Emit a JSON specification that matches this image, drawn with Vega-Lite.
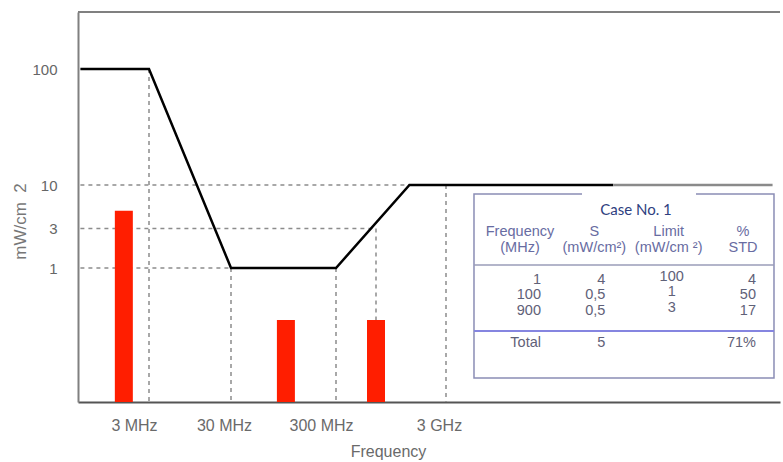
{
  "$schema": "https://vega.github.io/schema/vega-lite/v6.json",
  "width": 702,
  "height": 390,
  "autosize": {"type": "none"},
  "padding": {"left": 78, "top": 12, "right": 3, "bottom": 60},
  "background": "white",
  "config": {"view": {"stroke": null}, "font": "Liberation Sans"},
  "datasets": {
    "limit": [
      {"f": 0.15, "mw": 100, "seg": "a"}, {"f": 3, "mw": 100, "seg": "a"}, {"f": 30, "mw": 1, "seg": "a"},
      {"f": 300, "mw": 1, "seg": "a"}, {"f": 1600, "mw": 10, "seg": "a"}, {"f": 31700, "mw": 10, "seg": "a"},
      {"f": 31700, "mw": 10, "seg": "b"}, {"f": 300000, "mw": 10, "seg": "b"}
    ],
    "exposure": [{"f": 1, "s": 4.9, "base": 0.1}, {"f": 100, "s": 0.5, "base": 0.1}, {"f": 900, "s": 0.5, "base": 0.1}],
    "vguides": [
      {"f": 3, "top": 100, "bottom": 0.1}, {"f": 30, "top": 1, "bottom": 0.1}, {"f": 300, "top": 1, "bottom": 0.1},
      {"f": 900, "top": 3, "bottom": 0.1}, {"f": 3000, "top": 10, "bottom": 0.1}
    ],
    "hguides": [{"level": 10, "start": 0.15, "end": 1600}, {"level": 3, "start": 0.15, "end": 900}, {"level": 1, "start": 0.15, "end": 30}],
    "frame": [{"level": 1000}],
    "tableHead": [
      {"c": 1, "r": 1, "t": "Frequency"}, {"c": 1, "r": 2, "t": "(MHz)"},
      {"c": 2, "r": 1, "t": "S"}, {"c": 2, "r": 2, "t": "(mW/cm²)"},
      {"c": 3, "r": 1, "t": "Limit"}, {"c": 3, "r": 2, "t": "(mW/cm ²)"},
      {"c": 4, "r": 1, "t": "%"}, {"c": 4, "r": 2, "t": "STD"}
    ],
    "tableBody": [
      {"c": 1, "r": 4, "t": "1"}, {"c": 1, "r": 5, "t": "100"}, {"c": 1, "r": 6, "t": "900"}, {"c": 1, "r": 8, "t": "Total"},
      {"c": 2, "r": 4, "t": "4"}, {"c": 2, "r": 5, "t": "0,5"}, {"c": 2, "r": 6, "t": "0,5"}, {"c": 2, "r": 8, "t": "5"},
      {"c": 3, "r": 4, "t": "100"}, {"c": 3, "r": 5, "t": "1"}, {"c": 3, "r": 6, "t": "3"},
      {"c": 4, "r": 4, "t": "4"}, {"c": 4, "r": 5, "t": "50"}, {"c": 4, "r": 6, "t": "17"}, {"c": 4, "r": 8, "t": "71%"}
    ]
  },
  "layer": [
    {
      "layer": [
        {
          "data": {"name": "vguides"},
          "mark": {"type": "rule", "color": "#8c8c8c", "strokeWidth": 1.5, "strokeDash": [4, 4]},
          "encoding": {
            "x": {"field": "f", "type": "quantitative"},
            "y": {"field": "top", "type": "quantitative"},
            "y2": {"field": "bottom"}
          }
        },
        {
          "data": {"name": "hguides"},
          "mark": {"type": "rule", "color": "#8c8c8c", "strokeWidth": 1.5, "strokeDash": [4, 4]},
          "encoding": {
            "y": {"field": "level", "type": "quantitative"},
            "x": {"field": "start", "type": "quantitative"},
            "x2": {"field": "end"}
          }
        },
        {
          "data": {"name": "limit"},
          "mark": {"type": "line", "strokeWidth": 2.5},
          "encoding": {
            "color": {"field": "seg", "type": "nominal", "legend": null,
                      "scale": {"domain": ["a", "b"], "range": ["#000000", "#8a8a8a"]}},
            "x": {"field": "f", "type": "quantitative",
                  "scale": {"type": "log", "nice": false, "domain": [0.15, 3, 30, 300, 900, 3000, 300000], "range": [0, 71, 153, 258, 298, 368, 702]},
                  "axis": {
                    "values": [3, 30, 300, 3000],
                    "labelExpr": "datum.value == 3 ? '3 MHz' : datum.value == 30 ? '30 MHz' : datum.value == 300 ? '300 MHz' : '3 GHz'",
                    "labelOffset": {"condition": {"test": "datum.value == 30 || datum.value == 3000", "value": -7}, "value": -15},
                    "ticks": false, "tickSize": 0, "grid": false,
                    "domainColor": "#555555", "domainWidth": 2,
                    "labelPadding": 23, "labelBaseline": "middle", "labelFontSize": 16, "labelColor": "#6a6a6a",
                    "labelFont": "Liberation Sans", "labelFlush": false, "labelOverlap": false,
                    "title": "Frequency", "titleFont": "Liberation Sans", "titleFontSize": 16, "titleColor": "#6a6a6a",
                    "titleFontWeight": "normal", "titleX": 310, "titleY": 49, "titleBaseline": "middle", "titleAlign": "center"
                  }},
            "y": {"field": "mw", "type": "quantitative",
                  "scale": {"type": "log", "nice": false, "domain": [0.1, 0.5, 1, 10, 100, 1000], "range": [390, 308, 256, 173, 57, 0]},
                  "axis": {
                    "values": [1, 3, 10, 100], "format": "d",
                    "ticks": false, "tickSize": 0, "grid": false,
                    "domainColor": "#808080", "domainWidth": 2,
                    "labelPadding": 21, "labelBaseline": "middle", "labelFontSize": 15, "labelColor": "#666666",
                    "labelFont": "Liberation Sans", "labelFlush": false, "labelOverlap": false,
                    "title": "mW/cm\u00a0\u00a02", "titleFont": "Liberation Sans", "titleFontSize": 17, "titleColor": "#777777",
                    "titleFontWeight": "normal", "titleX": -58, "titleY": 209, "titleAngle": -90,
                    "titleAlign": "center", "titleBaseline": "middle"
                  }}
          }
        },
        {
          "data": {"name": "exposure"},
          "mark": {"type": "bar", "color": "#ff1e00", "size": 18},
          "encoding": {
            "x": {"field": "f", "type": "quantitative"},
            "y": {"field": "s", "type": "quantitative"},
            "y2": {"field": "base"}
          }
        },
        {
          "data": {"name": "frame"},
          "mark": {"type": "rule", "color": "#808080", "strokeWidth": 2},
          "encoding": {
            "y": {"field": "level", "type": "quantitative"}
          }
        }
      ]
    },
    {
      "layer": [
        {
          "data": {"values": [{}]},
          "mark": {"type": "point", "shape": "M-1,-0.6133H1V0.6133H-1Z", "size": 90000, "filled": true, "fill": "white", "stroke": "#8b8db5", "strokeWidth": 1.5, "opacity": 1},
          "encoding": {
            "x": {"datum": 2.399, "type": "quantitative", "axis": null},
            "y": {"datum": 4.405, "type": "quantitative", "axis": null}
          }
        },
        {
          "data": {"values": [{}]},
          "mark": {"type": "point", "shape": "M-1,-0.1H1V0.1H-1Z", "size": 12996, "filled": true, "fill": "white", "strokeWidth": 0, "opacity": 1},
          "encoding": {
            "x": {"datum": 2.601, "type": "quantitative", "axis": null},
            "y": {"datum": -1.365, "type": "quantitative", "axis": null}
          }
        },
        {
          "data": {"values": [{}]},
          "mark": {"type": "point", "shape": "M-1,0H1", "size": 90000, "filled": false, "stroke": "#9a9cb8", "strokeWidth": 1.5, "opacity": 1},
          "encoding": {
            "x": {"datum": 2.399, "type": "quantitative", "axis": null},
            "y": {"datum": 3.081, "type": "quantitative", "axis": null}
          }
        },
        {
          "data": {"values": [{}]},
          "mark": {"type": "point", "shape": "M-1,0H1", "size": 90000, "filled": false, "stroke": "#8585e0", "strokeWidth": 2, "opacity": 1},
          "encoding": {
            "x": {"datum": 2.399, "type": "quantitative", "axis": null},
            "y": {"datum": 7.243, "type": "quantitative", "axis": null}
          }
        },
        {
          "data": {"values": [{"label": "Case No. 1"}]},
          "mark": {"type": "text", "font": "Lato", "fontSize": 15, "color": "#2f3f7f", "align": "center", "baseline": "middle"},
          "encoding": {
            "text": {"field": "label"},
            "x": {"datum": 2.56, "type": "quantitative", "axis": null},
            "y": {"datum": -0.39, "type": "quantitative", "axis": null}
          }
        },
        {
          "data": {"name": "tableHead"},
          "mark": {"type": "text", "font": "Liberation Sans", "fontSize": 14.5, "color": "#686ca2", "align": "center", "baseline": "middle"},
          "encoding": {
            "text": {"field": "t"},
            "x": {"field": "c", "type": "quantitative", "axis": null,
                  "scale": {"domain": [1, 4], "range": [442, 665], "nice": false, "zero": false}},
            "y": {"field": "r", "type": "quantitative", "axis": null,
                  "scale": {"domain": [1, 8], "range": [220, 331], "nice": false, "zero": false}}
          }
        },
        {
          "data": {"name": "tableBody"},
          "transform": [{"filter": "datum.c == 1"}],
          "mark": {"type": "text", "font": "Liberation Sans", "fontSize": 14.5, "color": "#5f6178", "align": "right", "baseline": "middle", "dx": 21},
          "encoding": {
            "text": {"field": "t"},
            "x": {"field": "c", "type": "quantitative", "axis": null},
            "y": {"field": "r", "type": "quantitative", "axis": null}
          }
        },
        {
          "data": {"name": "tableBody"},
          "transform": [{"filter": "datum.c == 2"}],
          "mark": {"type": "text", "font": "Liberation Sans", "fontSize": 14.5, "color": "#5f6178", "align": "right", "baseline": "middle", "dx": 11},
          "encoding": {
            "text": {"field": "t"},
            "x": {"field": "c", "type": "quantitative", "axis": null},
            "y": {"field": "r", "type": "quantitative", "axis": null}
          }
        },
        {
          "data": {"name": "tableBody"},
          "transform": [{"filter": "datum.c == 3"}],
          "mark": {"type": "text", "font": "Liberation Sans", "fontSize": 14.5, "color": "#5f6178", "align": "center", "baseline": "middle", "dx": 3, "dy": -3},
          "encoding": {
            "text": {"field": "t"},
            "x": {"field": "c", "type": "quantitative", "axis": null},
            "y": {"field": "r", "type": "quantitative", "axis": null}
          }
        },
        {
          "data": {"name": "tableBody"},
          "transform": [{"filter": "datum.c == 4"}],
          "mark": {"type": "text", "font": "Liberation Sans", "fontSize": 14.5, "color": "#5f6178", "align": "right", "baseline": "middle", "dx": 13},
          "encoding": {
            "text": {"field": "t"},
            "x": {"field": "c", "type": "quantitative", "axis": null},
            "y": {"field": "r", "type": "quantitative", "axis": null}
          }
        }
      ]
    }
  ],
  "resolve": {"scale": {"x": "independent", "y": "independent"}}
}
